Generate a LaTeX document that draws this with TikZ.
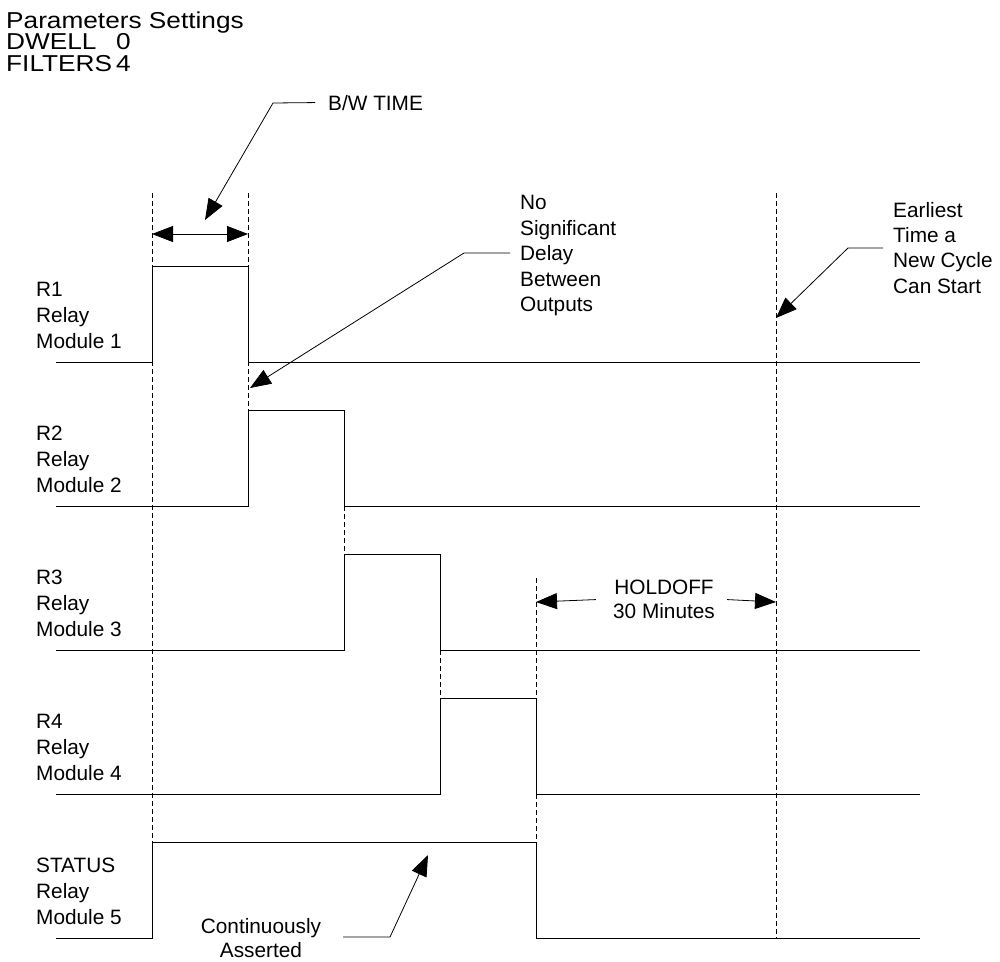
\documentclass[tikz,border=0pt]{standalone}
\usepackage{fontspec}
\setmainfont{Liberation Sans}
\newfontfamily\widefont{Liberation Sans}[FakeStretch=1.14]
\usetikzlibrary{arrows.meta}

\tikzset{
    sig/.style={line width=0.9pt},
    guide/.style={line width=0.8pt, dash pattern=on 5pt off 3pt},
    lbl/.style={anchor=north west, inner sep=0pt, align=left, font=\fontsize{20.8}{26}\selectfont},
    ptr/.style={line width=0.8pt, -{Triangle[length=21pt,width=16pt]}},
    dptr/.style={line width=0.8pt, {Triangle[length=21pt,width=16pt]}-{Triangle[length=21pt,width=16pt]}},
}

\begin{document}
\begin{tikzpicture}[x=1pt, y=-1pt]
    \useasboundingbox (0,0) rectangle (1000,961);

    % Parameters
    \node[anchor=base west, inner sep=0pt, font=\widefont\fontsize{23}{19.5}\selectfont] (params) at (6,28)
        {\begin{tabular}[t]{@{}l@{\hspace{4pt}}l@{}}
            \multicolumn{2}{@{}l@{}}{Parameters Settings}\\
            DWELL & 0\\
            FILTERS & 4
        \end{tabular}};

    % Timing guides
    \draw[guide] (152,193) -- (152,842);
    \draw[guide] (248,193) -- (248,506);
    \draw[guide] (344,506) -- (344,554);
    \draw[guide] (440,650) -- (440,698);
    \draw[guide] (536,578) -- (536,938);
    \draw[guide] (776,193) -- (776,938);

    % Relay outputs R1..R4
    \foreach \i/\a/\b in {0/152/248, 1/248/344, 2/344/440, 3/440/536} {
        \pgfmathsetmacro{\lo}{362+144*\i}
        \pgfmathsetmacro{\hi}{\lo-96}
        \draw[sig] (56,\lo) -- (\a,\lo) -- (\a,\hi) -- (\b,\hi) -- (\b,\lo) -- (920,\lo);
    }
    % Status output
    \draw[sig] (56,938) -- (152,938) -- (152,842) -- (536,842) -- (536,938) -- (920,938);

    % Channel labels
    \node[lbl] (r1) at (36,282) {R1\\Relay\\Module 1};
    \node[lbl] (r2) at (36,426) {R2\\Relay\\Module 2};
    \node[lbl] (r3) at (36,570) {R3\\Relay\\Module 3};
    \node[lbl] (r4) at (36,714) {R4\\Relay\\Module 4};
    \node[lbl] (status) at (36,858) {STATUS\\Relay\\Module 5};

    % B/W time
    \node[lbl, anchor=base west] (bw) at (328,110) {B/W TIME};
    \coordinate (bwbend) at (273,103);
    \coordinate (bwtip) at (205,220);
    \coordinate (bwl) at (152,234);
    \coordinate (bwr) at (248,234);
    \draw[ptr] ([xshift=-13pt]bw.west) -- (bwbend) -- (bwtip);
    \draw[dptr] (bwl) -- (bwr);

    % No significant delay
    \node[lbl, font=\fontsize{20.8}{25.6}\selectfont] (nsd) at (520,195) {No\\Significant\\Delay\\Between\\Outputs};
    \coordinate (nsdstart) at (510,253);
    \coordinate (nsdbend) at (464,253);
    \coordinate (nsdtip) at (250,388);
    \draw[ptr] (nsdstart) -- (nsdbend) -- (nsdtip);

    % Earliest new cycle
    \node[lbl, font=\fontsize{20.8}{25.3}\selectfont] (early) at (893,202) {Earliest\\Time a\\New Cycle\\Can Start};
    \coordinate (earlystart) at (883,248);
    \coordinate (earlybend) at (848,248);
    \coordinate (earlytip) at (776,318);
    \draw[ptr] (earlystart) -- (earlybend) -- (earlytip);

    % Holdoff
    \node[lbl, anchor=north, align=center, font=\fontsize{20.8}{24}\selectfont] (hold) at (664,580) {HOLDOFF\\30 Minutes};
    \coordinate (holdl) at (536,602);
    \coordinate (holdr) at (776,602);
    \draw[ptr] ([xshift=-17pt]hold.west) -- (holdl);
    \draw[ptr] ([xshift=12pt]hold.east) -- (holdr);

    % Continuously asserted
    \node[lbl, anchor=north, align=center, font=\fontsize{20.8}{24}\selectfont] (cont) at (261,918) {Continuously\\Asserted};
    \coordinate (contstart) at (343,937);
    \coordinate (contbend) at (390,937);
    \coordinate (conttip) at (428,855);
    \draw[ptr] (contstart) -- (contbend) -- (conttip);
\end{tikzpicture}
\end{document}
